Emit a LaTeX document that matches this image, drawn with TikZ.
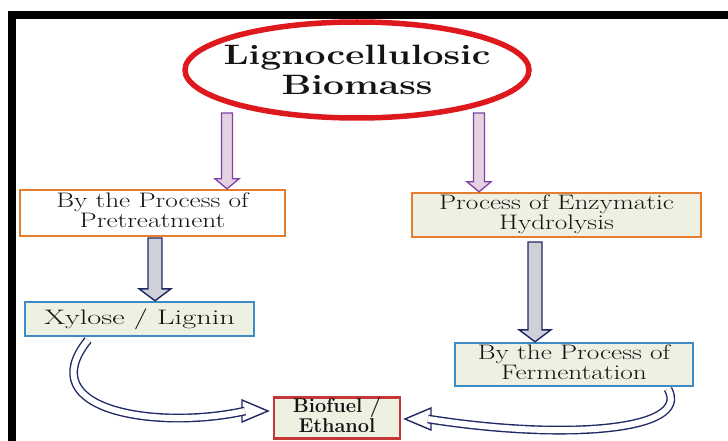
\documentclass[tikz,border=0pt]{standalone}
\usepackage{graphicx}
\usetikzlibrary{shapes.geometric,calc}
\definecolor{ered}{RGB}{222,25,30}
\definecolor{purp}{RGB}{125,65,165}
\definecolor{pfill}{RGB}{228,210,224}
\definecolor{navy}{RGB}{30,40,100}
\definecolor{nfill}{RGB}{208,208,216}
\definecolor{orng}{RGB}{230,125,45}
\definecolor{bblue}{RGB}{60,140,200}
\definecolor{bred}{RGB}{195,55,55}
\definecolor{beige}{RGB}{238,240,226}
\definecolor{txt}{RGB}{20,20,20}
\newcommand{\tx}[2][1.3]{\scalebox{#1}[1]{\begin{tabular}{@{}c@{}}#2\end{tabular}}}
\newcommand{\fatdown}[6]{%
  \draw[#6] let \p1=(#1), \p2=(#2) in
    (\x1-#3pt,\y1) -- (\x1-#3pt,\y2+#5pt) -- (\x1-#4pt,\y2+#5pt) -- (\x1,\y2)
    -- (\x1+#4pt,\y2+#5pt) -- (\x1+#3pt,\y2+#5pt) -- (\x1+#3pt,\y1) -- cycle;}
\tikzset{
  boxst/.style={draw, line width=2.4pt, inner sep=0pt, text=txt,
    font=\fontsize{21}{19}\selectfont},
  purparrow/.style={draw=purp, fill=pfill, line width=1.3pt},
  navyarrow/.style={draw=navy, fill=nfill, line width=1.4pt},
  band/.style={draw=navy, double=white, double distance=6pt, line width=1.4pt},
  headst/.style={draw=navy, fill=white, line width=1.4pt, line join=miter}
}
\begin{document}
\begin{tikzpicture}[x=1pt,y=-1pt]
\useasboundingbox (0,0) rectangle (728,441);
% frame
\fill[black] (8,11) rectangle (728,19);
\fill[black] (8,11) rectangle (16,441);
% ellipse
\node[ellipse, draw=ered, fill=white, line width=5.5pt, minimum width=344pt, minimum height=96pt, inner sep=0pt] (el) at (357,70) {};
\node[text=txt, font=\fontsize{28}{30}\bfseries\selectfont, inner sep=0pt] (title) at (357,74) {\tx[1.33]{Lignocellulosic\\Biomass}};
% boxes
\node[boxst, draw=orng, fill=white, minimum width=265pt, minimum height=46pt] (b1) at (152.5,213) {\tx{By the Process of\\Pretreatment}};
\node[boxst, draw=orng, fill=beige, minimum width=289pt, minimum height=44pt] (b2) at (556.5,215) {\tx{Process of Enzymatic\\Hydrolysis}};
\node[boxst, draw=bblue, fill=beige, minimum width=229pt, minimum height=34pt] (b3) at (139.5,319) {\tx[1.45]{Xylose / Lignin}};
\node[boxst, draw=bblue, fill=beige, minimum width=238pt, minimum height=43pt] (b4) at (574,364.5) {\tx{By the Process of\\Fermentation}};
\node[boxst, draw=bred, fill=beige, minimum width=126pt, minimum height=40pt, font=\fontsize{20}{20}\bfseries\selectfont] (b5) at (337,418) {\tx[1.0]{Biofuel /\\Ethanol}};
% straight arrows
\coordinate (p1) at (227,113);
\coordinate (p2) at (479,113);
\coordinate (n1) at (155,238);
\coordinate (n2) at (535,242);
\fatdown{p1}{p1 |- b1.north}{5.5}{12}{10}{purparrow}
\fatdown{p2}{p2 |- b2.north}{5.5}{12}{10}{purparrow}
\fatdown{n1}{n1 |- b3.north}{7}{16}{12}{navyarrow}
\fatdown{n2}{n2 |- b4.north}{7}{16}{12}{navyarrow}
% curved arrows
\coordinate (c1s) at (88,340);
\coordinate (c1t) at (268,411);
\coordinate (c2s) at (668,389);
\coordinate (c2t) at (405,419);
\draw[headst] (c1t) -- ++(-26,-11) -- ++(0,22) -- cycle;
\draw[band] (c1s) .. controls (30,412) and (160,430) .. ($(c1t)+(-23,0)$);
\draw[headst] (c2t) -- ++(26,-11) -- ++(0,22) -- cycle;
\draw[band] (c2s) .. controls (692,432) and (560,440) .. ($(c2t)+(23,0)$);
\end{tikzpicture}
\end{document}
